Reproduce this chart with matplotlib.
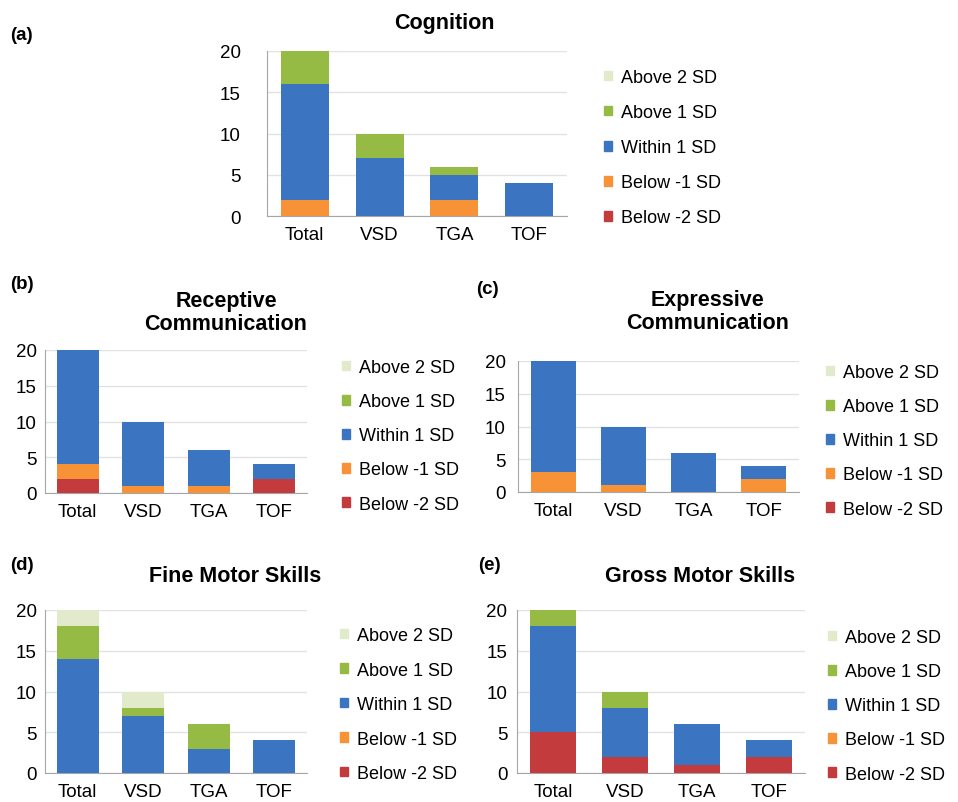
import matplotlib
matplotlib.use("Agg")
import matplotlib.pyplot as plt
from matplotlib.patches import Patch
import numpy as np

plt.rcParams['font.family'] = ['Liberation Sans', 'DejaVu Sans']

W, H = 958, 803

groups = ["Total", "VSD", "TGA", "TOF"]
levels = ["Below -2 SD", "Below -1 SD", "Within 1 SD", "Above 1 SD", "Above 2 SD"]
colors = ["#c43b3d", "#f79237", "#3b75c2", "#95bb45", "#e1ebcc"]

# counts per level (bottom to top), per group
cognition = [[0, 0, 0, 0], [2, 0, 2, 0], [14, 7, 3, 4], [4, 3, 1, 0], [0, 0, 0, 0]]
receptive = [[2, 0, 0, 2], [2, 1, 1, 0], [16, 9, 5, 2], [0, 0, 0, 0], [0, 0, 0, 0]]
expressive = [[0, 0, 0, 0], [3, 1, 0, 2], [17, 9, 6, 2], [0, 0, 0, 0], [0, 0, 0, 0]]
fine_motor = [[0, 0, 0, 0], [0, 0, 0, 0], [14, 7, 3, 4], [4, 1, 3, 0], [2, 2, 0, 0]]
gross_motor = [[5, 2, 1, 2], [0, 0, 0, 0], [13, 6, 5, 2], [2, 2, 0, 0], [0, 0, 0, 0]]

fig = plt.figure(figsize=(W / 100, H / 100), dpi=100)


def rect(x0, x1, ytop, ybot):
    return [x0 / W, 1 - ybot / H, (x1 - x0) / W, (ybot - ytop) / H]


def panel(box, data, title, title_xy, tag, tag_xy, leg_xy, ypad, lspace):
    ax = fig.add_axes(rect(*box))
    x = np.arange(len(groups))
    bottom = np.zeros(len(groups))
    for vals, c in zip(data, colors):
        vals = np.array(vals, dtype=float)
        ax.bar(x, vals, 0.64, bottom=bottom, color=c, zorder=3)
        bottom += vals
    ax.set_xlim(-0.5, 3.5)
    ax.set_ylim(0, 20)
    ax.set_yticks([0, 5, 10, 15, 20])
    ax.set_xticks(x)
    ax.set_xticklabels(groups, fontsize=13.5)
    ax.tick_params(axis='y', length=0, pad=ypad, labelsize=13.5)
    ax.tick_params(axis='x', length=0, pad=7)
    ax.grid(axis='y', color='#e2e2e2', lw=1, zorder=0)
    for s in ['top', 'right']:
        ax.spines[s].set_visible(False)
    ax.spines['left'].set_color('#a6a6a6')
    ax.spines['bottom'].set_color('#a6a6a6')
    fig.text(title_xy[0] / W, 1 - title_xy[1] / H, title, ha='center', va='center',
             fontsize=15.5, fontweight='bold', linespacing=1.1)
    fig.text(tag_xy[0] / W, 1 - tag_xy[1] / H, tag, ha='left', va='center',
             fontsize=13.5, fontweight='bold')
    handles = [Patch(color=c, label=l) for c, l in zip(colors[::-1], levels[::-1])]
    fig.legend(handles=handles, loc='upper left',
               bbox_to_anchor=(leg_xy[0] / W, 1 - leg_xy[1] / H),
               frameon=False, fontsize=13, borderpad=0, borderaxespad=0,
               handlelength=0.45, handleheight=0.45, handletextpad=0.5,
               labelspacing=lspace)
    return ax


panel((267, 567, 52, 217), cognition, "Cognition", (444, 23), "(a)", (10, 35), (604, 70), 19, 1.0)
panel((45, 307, 351, 494), receptive, "Receptive\nCommunication", (226, 313), "(b)", (10, 285), (342, 360), 6, 0.95)
panel((518, 799, 362, 493), expressive, "Expressive\nCommunication", (708, 312), "(c)", (476, 290), (826, 365), 9, 0.95)
panel((45, 307, 611, 774), fine_motor, "Fine Motor Skills", (235, 577), "(d)", (10, 565), (340, 628), 6, 0.97)
panel((517, 805, 611, 774), gross_motor, "Gross Motor Skills", (700, 577), "(e)", (478, 565), (828, 630), 7, 0.95)

fig.savefig("out.png", dpi=100)
